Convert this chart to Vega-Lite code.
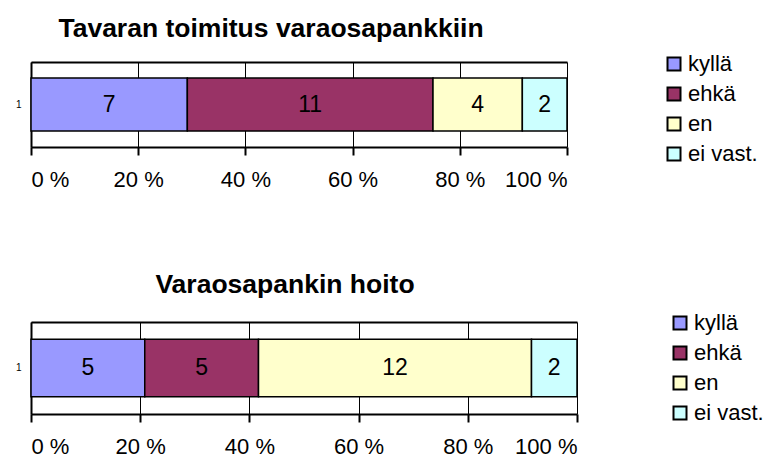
{
  "$schema": "https://vega.github.io/schema/vega-lite/v6.json",
  "background": "white",
  "padding": {"left": 15, "top": 15, "right": 0, "bottom": 0},
  "spacing": 80,
  "config": {
    "font": "Liberation Sans",
    "view": {"stroke": null},
    "title": {"color": "black", "fontSize": 26.5, "fontWeight": "bold", "font": "Liberation Sans"}
  },
  "datasets": {
    "toimitus": [
      {"q": "1", "vastaus": "kyllä", "o": 1, "n": 7},
      {"q": "1", "vastaus": "ehkä", "o": 2, "n": 11},
      {"q": "1", "vastaus": "en", "o": 3, "n": 4},
      {"q": "1", "vastaus": "ei vast.", "o": 4, "n": 2}
    ],
    "hoito": [
      {"q": "1", "vastaus": "kyllä", "o": 1, "n": 5},
      {"q": "1", "vastaus": "ehkä", "o": 2, "n": 5},
      {"q": "1", "vastaus": "en", "o": 3, "n": 12},
      {"q": "1", "vastaus": "ei vast.", "o": 4, "n": 2}
    ]
  },
  "vconcat": [
    {
      "width": 536,
      "height": 85,
      "title": {"text": "Tavaran toimitus varaosapankkiin", "dx": -28, "offset": 11},
      "data": {"name": "toimitus"},
      "transform": [
        {"stack": "n", "groupby": ["q"], "sort": [{"field": "o", "order": "ascending"}], "offset": "normalize", "as": ["x0", "x1"]},
        {"calculate": "(datum.x0 + datum.x1) / 2", "as": "xm"}
      ],
      "encoding": {
        "y": {
          "field": "q", "type": "nominal",
          "scale": {"paddingInner": 0, "paddingOuter": 0.3},
          "axis": {"title": null, "ticks": false, "domainColor": "black", "domainWidth": 2, "labelFontSize": 10, "labelColor": "black", "labelPadding": 10}
        }
      },
      "layer": [
        {
          "mark": {"type": "bar", "stroke": "black", "strokeWidth": 1.5},
          "encoding": {
            "x": {
              "field": "x0", "type": "quantitative",
              "scale": {"domain": [0, 1], "nice": false},
              "axis": {"orient": "bottom", "title": null, "values": [0, 0.2, 0.4, 0.6, 0.8, 1], "labelExpr": "format(datum.value * 100, 'd') + ' %'", "grid": true, "gridColor": "black", "gridWidth": 1, "gridOpacity": 1, "domainColor": "black", "domainWidth": 2, "tickColor": "black", "tickWidth": 2, "tickSize": 8, "labelFontSize": 22, "labelColor": "black", "labelPadding": 14.5}
            },
            "x2": {"field": "x1"},
            "color": {
              "field": "vastaus", "type": "nominal",
              "scale": {"domain": ["kyllä", "ehkä", "en", "ei vast."], "range": ["#9999FF", "#993366", "#FFFFCC", "#CCFFFF"]},
              "sort": ["kyllä", "ehkä", "en", "ei vast."],
              "legend": {"title": null, "orient": "none", "legendX": 632, "legendY": -9, "symbolType": "square", "symbolSize": 169, "symbolStrokeColor": "black", "symbolStrokeWidth": 2, "labelFontSize": 22, "labelColor": "black", "rowPadding": 8, "labelOffset": 3}
            }
          }
        },
        {
          "mark": {"type": "text", "fontSize": 23, "color": "black", "font": "Liberation Sans"},
          "encoding": {
            "x": {
              "field": "xm", "type": "quantitative",
              "axis": {"orient": "top", "title": null, "labels": false, "ticks": false, "grid": false, "domainColor": "black", "domainWidth": 2}
            },
            "text": {"field": "n", "type": "quantitative"}
          }
        }
      ],
      "resolve": {"axis": {"x": "independent"}}
    },
    {
      "width": 546,
      "height": 92,
      "title": {"text": "Varaosapankin hoito", "dx": -19, "offset": 14},
      "data": {"name": "hoito"},
      "transform": [
        {"stack": "n", "groupby": ["q"], "sort": [{"field": "o", "order": "ascending"}], "offset": "normalize", "as": ["x0", "x1"]},
        {"calculate": "(datum.x0 + datum.x1) / 2", "as": "xm"}
      ],
      "encoding": {
        "y": {
          "field": "q", "type": "nominal",
          "scale": {"paddingInner": 0, "paddingOuter": 0.3},
          "axis": {"title": null, "ticks": false, "domainColor": "black", "domainWidth": 2, "labelFontSize": 10, "labelColor": "black", "labelPadding": 10}
        }
      },
      "layer": [
        {
          "mark": {"type": "bar", "stroke": "black", "strokeWidth": 1.5},
          "encoding": {
            "x": {
              "field": "x0", "type": "quantitative",
              "scale": {"domain": [0, 1], "nice": false},
              "axis": {"orient": "bottom", "title": null, "values": [0, 0.2, 0.4, 0.6, 0.8, 1], "labelExpr": "format(datum.value * 100, 'd') + ' %'", "grid": true, "gridColor": "black", "gridWidth": 1, "gridOpacity": 1, "domainColor": "black", "domainWidth": 2, "tickColor": "black", "tickWidth": 2, "tickSize": 8, "labelFontSize": 22, "labelColor": "black", "labelPadding": 14.5}
            },
            "x2": {"field": "x1"},
            "color": {
              "field": "vastaus", "type": "nominal",
              "scale": {"domain": ["kyllä", "ehkä", "en", "ei vast."], "range": ["#9999FF", "#993366", "#FFFFCC", "#CCFFFF"]},
              "sort": ["kyllä", "ehkä", "en", "ei vast."],
              "legend": {"title": null, "orient": "none", "legendX": 638, "legendY": -10, "symbolType": "square", "symbolSize": 169, "symbolStrokeColor": "black", "symbolStrokeWidth": 2, "labelFontSize": 22, "labelColor": "black", "rowPadding": 8, "labelOffset": 3}
            }
          }
        },
        {
          "mark": {"type": "text", "fontSize": 23, "color": "black", "font": "Liberation Sans"},
          "encoding": {
            "x": {
              "field": "xm", "type": "quantitative",
              "axis": {"orient": "top", "title": null, "labels": false, "ticks": false, "grid": false, "domainColor": "black", "domainWidth": 2}
            },
            "text": {"field": "n", "type": "quantitative"}
          }
        }
      ],
      "resolve": {"axis": {"x": "independent"}}
    }
  ],
  "resolve": {"legend": {"color": "independent"}, "scale": {"color": "independent"}}
}
